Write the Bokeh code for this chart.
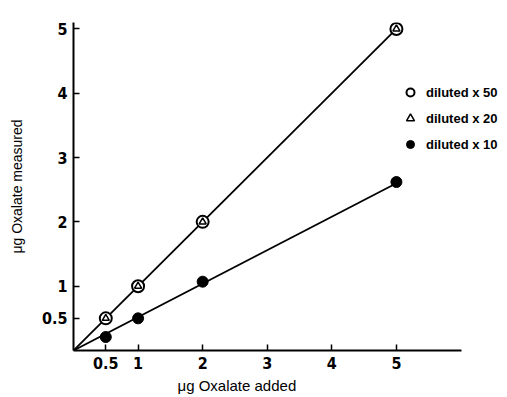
from bokeh.plotting import figure
from bokeh.models import FixedTicker, Legend, LegendItem, Title
from bokeh.embed import file_html
from bokeh.resources import INLINE

# data
added = [0.5, 1, 2, 5]
x50_measured = [0.5, 1.0, 2.0, 5.0]
x20_measured = [0.5, 1.0, 2.0, 5.0]
x10_measured = [0.21, 0.5, 1.07, 2.62]
fit_x = [0, 5]
fit_x50 = [0, 5.0]
fit_x10 = [0, 2.6]
ticks = [0.5, 1, 2, 3, 4, 5]
tick_labels = {0.5: "0.5", 1: "1", 2: "2", 3: "3", 4: "4", 5: "5"}
series_names = ["diluted x 50", "diluted x 20", "diluted x 10"]
x_title = "μg Oxalate added"
y_title = "μg Oxalate measured"

TICKFONT = "Liberation Sans Narrow, DejaVu Sans Condensed, Arial Narrow, sans-serif"
LABELFONT = "Arial, Liberation Sans, sans-serif"

p = figure(width=507, height=397, output_backend="svg", toolbar_location=None,
           x_range=(0, 6.72), y_range=(0, 5.1),
           min_border_left=73, min_border_right=0, min_border_top=22, min_border_bottom=47)
p.outline_line_color = None
p.grid.visible = False
p.background_fill_color = "white"
p.border_fill_color = "white"

for ax in (p.xaxis[0], p.yaxis[0]):
    ax.ticker = FixedTicker(ticks=ticks)
    ax.major_label_overrides = tick_labels
    ax.axis_line_color = "black"
    ax.axis_line_width = 2
    ax.major_tick_line_color = "black"
    ax.major_tick_line_width = 1.5
    ax.major_tick_in = 6
    ax.major_tick_out = 0
    ax.minor_tick_line_color = None
    ax.major_label_text_font = TICKFONT
    ax.major_label_text_font_style = "bold"
    ax.major_label_text_font_size = "16px"
    ax.major_label_text_color = "black"
    ax.axis_label_text_font = LABELFONT
    ax.axis_label_text_font_style = "normal"
    ax.axis_label_text_font_size = "14px"
    ax.axis_label_text_color = "black"

p.xaxis[0].bounds = (0, 6.0)
p.xaxis[0].major_label_standoff = 6
p.yaxis[0].axis_label = y_title
p.yaxis[0].major_label_standoff = 6
p.yaxis[0].axis_label_standoff = 14

xt = Title(text=x_title, align="left", offset=104, standoff=7,
           text_font=LABELFONT, text_font_size="15px", text_font_style="normal",
           text_color="black")
p.add_layout(xt, "below")

p.line(fit_x, fit_x50, line_color="black", line_width=1.8)
p.line(fit_x, fit_x10, line_color="black", line_width=1.8)

r50 = p.scatter(added, x50_measured, marker="circle", size=12, fill_color="white",
                line_color="black", line_width=2)
r20 = p.scatter(added, x20_measured, marker="triangle", size=7, fill_color="white",
                line_color="black", line_width=1.5)
r10 = p.scatter(added, x10_measured, marker="circle", size=11, fill_color="black",
                line_color="black")

legend = Legend(items=[LegendItem(label=series_names[0], renderers=[r50]),
                       LegendItem(label=series_names[1], renderers=[r20]),
                       LegendItem(label=series_names[2], renderers=[r10])],
                location=(327, 196), border_line_color=None, background_fill_alpha=0,
                padding=0, margin=0, spacing=6, glyph_width=20, glyph_height=20,
                label_height=20, label_standoff=6,
                label_text_font=LABELFONT, label_text_font_style="bold",
                label_text_font_size="13px", label_text_color="black")
p.add_layout(legend, "center")

open("out.html", "w").write(file_html(p, INLINE))
